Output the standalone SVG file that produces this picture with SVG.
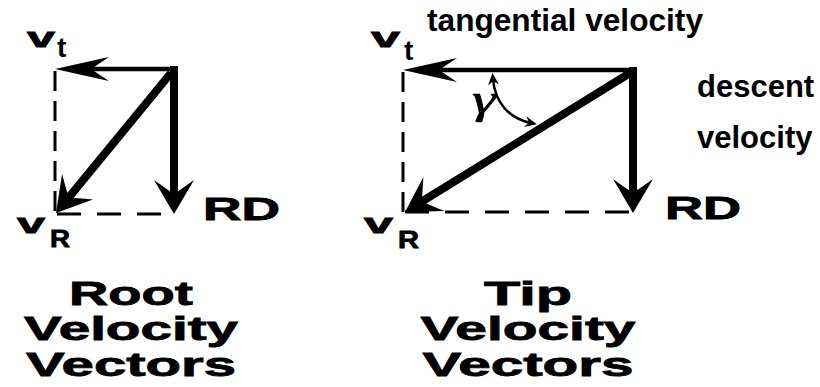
<svg xmlns="http://www.w3.org/2000/svg" width="820" height="387" viewBox="0 0 820 387">
  <style>
    .lbl { font-family: "Liberation Sans", Arial, sans-serif; font-weight: bold; fill: #000; }
    .wide { font-family: "Liberation Sans", Arial, sans-serif; font-weight: bold; fill: #000; stroke: #000; stroke-width: 0.8; }
    .thin { stroke: #000; stroke-width: 4.5; fill: none; marker-end: url(#headThin); }
    .thick { stroke: #000; stroke-width: 8; fill: none; marker-end: url(#headThick); }
    .dashV { stroke: #000; stroke-width: 3; fill: none; stroke-dasharray: 20 10; }
    .dashH { stroke: #000; stroke-width: 3; fill: none; stroke-dasharray: 24 16; }
    .arc { stroke: #000; stroke-width: 2.5; fill: none; marker-start: url(#headSmall); marker-end: url(#headSmall); }
  </style>
  <defs>
    <marker id="headThin" markerUnits="userSpaceOnUse" orient="auto" refX="0" refY="0" markerWidth="60" markerHeight="30" viewBox="-20 -15 60 30" overflow="visible">
      <path d="M36,0 L-18,-12 L0,0 L-18,12 Z" fill="#000"/>
    </marker>
    <marker id="headThick" markerUnits="userSpaceOnUse" orient="auto" refX="0" refY="0" markerWidth="40" markerHeight="44" viewBox="-18 -22 40 44" overflow="visible">
      <path d="M18,0 L-16,-20 Q-6,-6 -2,0 Q-6,6 -16,20 Z" fill="#000"/>
    </marker>
    <marker id="headSmall" markerUnits="userSpaceOnUse" orient="auto-start-reverse" refX="0" refY="0" markerWidth="16" markerHeight="14" viewBox="-8 -7 16 14" overflow="visible">
      <path d="M6,0 L-6,-5.5 L-2,0 L-6,5.5 Z" fill="#000"/>
    </marker>
  </defs>
  <rect x="0" y="0" width="820" height="387" fill="#fff"/>

  <g id="connectors">
    <g id="root-connectors">
      <line class="dashV" x1="55" y1="71" x2="55" y2="213"/>
      <line class="dashH" x1="57" y1="214" x2="172" y2="214"/>
      <line class="thin" x1="178" y1="69" x2="91" y2="69"/>
      <line class="thick" x1="174" y1="66" x2="174" y2="196"/>
      <line class="thick" x1="171" y1="73" x2="67.4" y2="199.1"/>
    </g>
    <g id="tip-connectors">
      <line class="dashV" x1="403" y1="72" x2="403" y2="212"/>
      <line class="dashH" x1="405" y1="212" x2="630" y2="212"/>
      <line class="thin" x1="637" y1="70" x2="439" y2="70"/>
      <line class="thick" x1="633" y1="67" x2="633" y2="195"/>
      <line class="thick" x1="630" y1="73" x2="420.3" y2="202.5"/>
      <path class="arc" d="M493,79 C495,102 508,118 531,123"/>
    </g>
  </g>

  <g id="root-vectors">
    <g id="root-vt">
      <text class="wide" x="27" y="47" font-size="28" textLength="28" lengthAdjust="spacingAndGlyphs">v</text>
      <text class="lbl" x="57" y="57" font-size="28">t</text>
    </g>
    <g id="root-vr">
      <text class="wide" x="17" y="233" font-size="28" textLength="28" lengthAdjust="spacingAndGlyphs">v</text>
      <text class="wide" x="50" y="247" font-size="24" textLength="20" lengthAdjust="spacingAndGlyphs">R</text>
    </g>
    <g id="root-rd">
      <text class="wide" x="203" y="220" font-size="32" textLength="77" lengthAdjust="spacingAndGlyphs">RD</text>
    </g>
    <g id="root-title">
      <text class="wide" x="131" y="305" font-size="34" text-anchor="middle" textLength="124" lengthAdjust="spacingAndGlyphs">Root</text>
      <text class="wide" x="131" y="340" font-size="34" text-anchor="middle" textLength="214" lengthAdjust="spacingAndGlyphs">Velocity</text>
      <text class="wide" x="131" y="376" font-size="34" text-anchor="middle" textLength="210" lengthAdjust="spacingAndGlyphs">Vectors</text>
    </g>
  </g>

  <g id="tip-vectors">
    <g id="tip-vt">
      <text class="wide" x="371" y="47" font-size="28" textLength="29" lengthAdjust="spacingAndGlyphs">v</text>
      <text class="lbl" x="404" y="60" font-size="28">t</text>
    </g>
    <g id="tip-vr">
      <text class="wide" x="364" y="233" font-size="28" textLength="29" lengthAdjust="spacingAndGlyphs">v</text>
      <text class="wide" x="398" y="248" font-size="24" textLength="21" lengthAdjust="spacingAndGlyphs">R</text>
    </g>
    <g id="tip-rd">
      <text class="wide" x="665" y="219" font-size="32" textLength="76" lengthAdjust="spacingAndGlyphs">RD</text>
    </g>
    <g id="gamma">
      <text x="472" y="113" font-size="40" font-style="italic" font-family="'Liberation Serif', 'Times New Roman', serif" fill="#000" stroke="#000" stroke-width="0.6" textLength="24" lengthAdjust="spacingAndGlyphs">γ</text>
    </g>
    <g id="tangential-label">
      <text class="lbl" x="427" y="31" font-size="31" textLength="276" lengthAdjust="spacingAndGlyphs">tangential velocity</text>
    </g>
    <g id="descent-label">
      <text class="lbl" x="697" y="97" font-size="31">descent</text>
      <text class="lbl" x="697" y="148" font-size="31">velocity</text>
    </g>
    <g id="tip-title">
      <text class="wide" x="528" y="305" font-size="34" text-anchor="middle" textLength="88" lengthAdjust="spacingAndGlyphs">Tip</text>
      <text class="wide" x="528" y="340" font-size="34" text-anchor="middle" textLength="215" lengthAdjust="spacingAndGlyphs">Velocity</text>
      <text class="wide" x="528" y="376" font-size="34" text-anchor="middle" textLength="211" lengthAdjust="spacingAndGlyphs">Vectors</text>
    </g>
  </g>
</svg>
